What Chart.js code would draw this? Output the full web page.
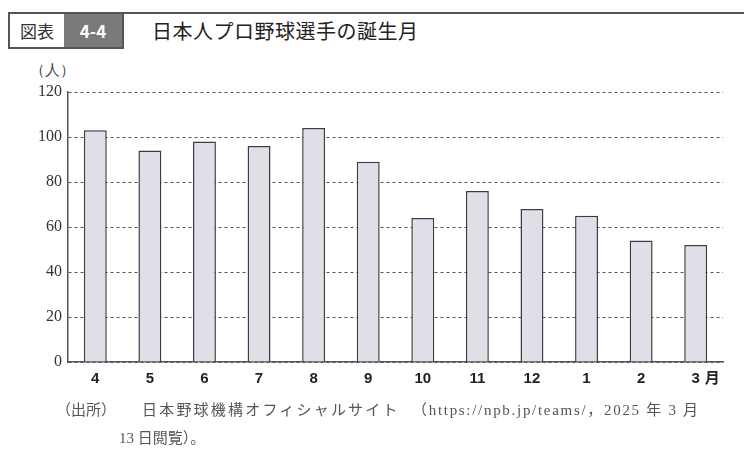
<!DOCTYPE html>
<html lang="ja">
<head>
  <meta charset="UTF-8">
  <title>日本人プロ野球選手の誕生月</title>
  <script src="https://cdn.jsdelivr.net/npm/chart.js@4.4.1/dist/chart.umd.min.js"></script>
  <style>
    html, body { margin: 0; padding: 0; background: #fff; }
    #wrap { position: relative; width: 744px; height: 450px; overflow: hidden; }
    #topline { position: absolute; left: 8px; top: 12px; width: 736px; height: 2px; background: #555; }
    #badge { position: absolute; left: 8px; top: 12px; width: 112px; height: 33px; border: 2px solid #555;
             font-family: "Noto Sans CJK JP", sans-serif; font-size: 17px; display: flex; }
    #badge .a { width: 54px; text-align: center; line-height: 33px; color: #333; background: #fff; }
    #badge .b { flex: 1; text-align: center; line-height: 33px; color: #fff; background: #7a7a7a; font-weight: bold; }
    #title { position: absolute; left: 152px; top: 16px; font-family: "Noto Sans CJK JP", sans-serif;
             font-size: 20px; color: #222; letter-spacing: 0.5px; }
    #unit { position: absolute; left: 30px; top: 61px; font-family: "Liberation Serif", serif; font-size: 15px; color: #444; }
    .note { position: absolute; font-family: "Liberation Serif", "Noto Sans CJK JP", serif; font-size: 15px;
            color: #555; white-space: nowrap; line-height: 20px; }
    canvas { position: absolute; left: 0; top: 0; }
  </style>
</head>
<body>
<div id="wrap">
  <div id="topline"></div>
  <div id="badge"><div class="a">図表</div><div class="b">4-4</div></div>
  <div id="title">日本人プロ野球選手の誕生月</div>
  <div id="unit">（人）</div>
  <canvas id="barChart" width="744" height="450"></canvas>
  <div class="note" style="left:56px; top:400px;">（出所）</div>
  <div class="note" style="left:142px; top:400px; letter-spacing:2.2px;">日本野球機構オフィシャルサイト</div>
  <div class="note" style="left:412px; top:400px; letter-spacing:1.7px;">（https://npb.jp/teams/，2025 年 3 月</div>
  <div class="note" style="left:119px; top:428px;">13 日閲覧）。</div>
</div>

<script>
  // birth month (April start, like the school year)
  const months = ['4', '5', '6', '7', '8', '9', '10', '11', '12', '1', '2', '3'];
  const players = [103, 94, 98, 96, 104, 89, 64, 76, 68, 65, 54, 52];
  const yTicks = [0, 20, 40, 60, 80, 100, 120];

  // puts the "月" unit after the last month label
  const monthUnit = {
    id: 'monthUnit',
    afterDraw(chart) {
      const { ctx, scales } = chart;
      const x = scales.x.getPixelForValue(months.length - 1);
      ctx.save();
      ctx.font = 'bold 15px "Noto Sans CJK JP", sans-serif';
      ctx.fillStyle = '#222';
      ctx.textBaseline = 'middle';
      ctx.fillText('月', x + 9, 377);
      ctx.restore();
    }
  };

  const ctx = document.getElementById('barChart').getContext('2d');
  new Chart(ctx, {
    type: 'bar',
    data: {
      labels: months,
      datasets: [{
        data: players,
        backgroundColor: '#e2dee8',
        borderColor: '#3d3d3d',
        borderWidth: 1.5,
        categoryPercentage: 1,
        barPercentage: 0.42
      }]
    },
    options: {
      responsive: false,
      animation: false,
      layout: { padding: { top: 92, right: 21, left: 0, bottom: 0 } },
      plugins: { legend: { display: false }, tooltip: { enabled: false } },
      scales: {
        x: {
          afterFit(scale) { scale.height = 88; },
          grid: { display: false, drawTicks: false },
          border: { color: '#555', width: 1.5 },
          ticks: {
            padding: 8,
            color: '#222',
            font: { family: '"Liberation Sans", sans-serif', size: 15, weight: 'bold' }
          }
        },
        y: {
          min: 0,
          max: 120,
          afterFit(scale) { scale.width = 68; },
          afterBuildTicks(scale) { scale.ticks = yTicks.map(v => ({ value: v })); },
          grid: { color: '#555', lineWidth: 1, drawTicks: false },
          border: { color: '#555', width: 1.5, dash: [3, 3] },
          ticks: {
            padding: 6,
            color: '#333',
            font: { family: '"Liberation Serif", serif', size: 16 }
          }
        }
      }
    },
    plugins: [monthUnit]
  });
</script>
</body>
</html>
